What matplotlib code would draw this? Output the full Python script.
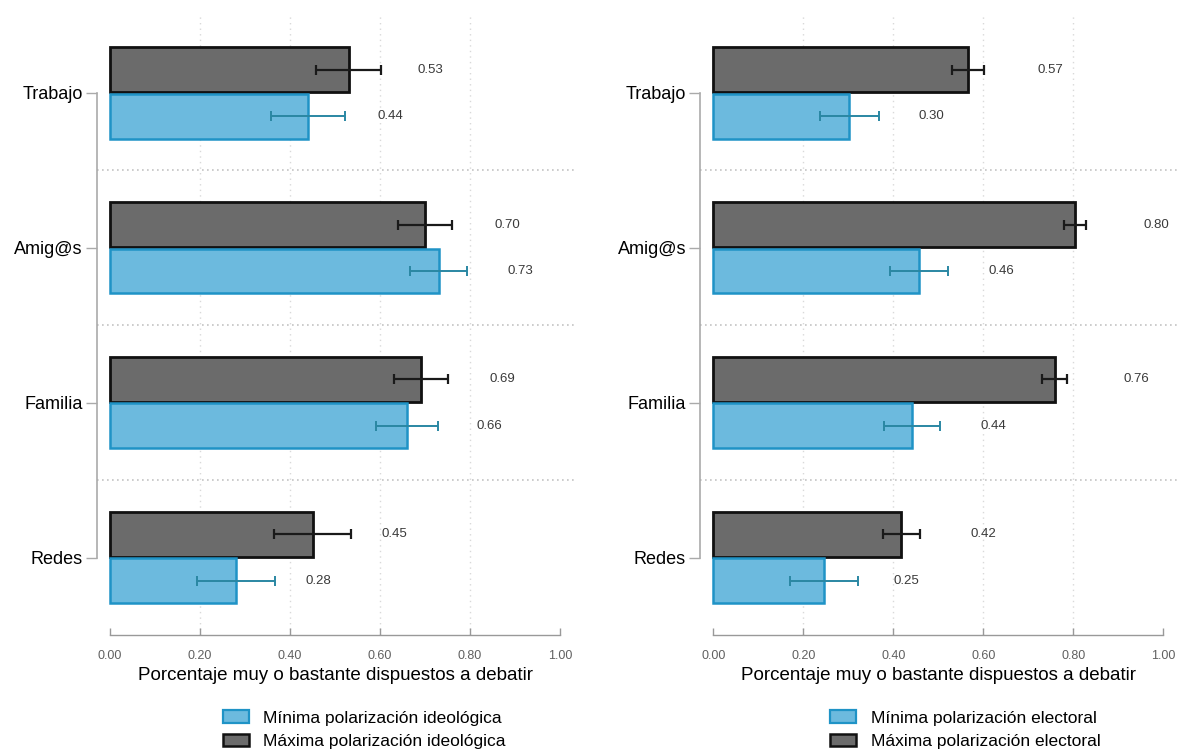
import matplotlib
matplotlib.use('Agg')
import matplotlib.pyplot as plt
from matplotlib.patches import Patch
import numpy as np

plt.rcParams['font.family'] = ['Liberation Sans', 'DejaVu Sans']

categories = ['Trabajo', 'Amig@s', 'Familia', 'Redes']
xticks = [0.0, 0.2, 0.4, 0.6, 0.8, 1.0]
xtick_labels = ['0.00', '0.20', '0.40', '0.60', '0.80', '1.00']
xlabel = 'Porcentaje muy o bastante dispuestos a debatir'

# Left panel: ideological polarization
ideo_min = [0.44, 0.73, 0.66, 0.28]
ideo_min_err = [0.083, 0.064, 0.068, 0.086]
ideo_max = [0.53, 0.70, 0.69, 0.45]
ideo_max_err = [0.073, 0.060, 0.060, 0.085]
ideo_labels = ['Mínima polarización ideológica', 'Máxima polarización ideológica']

# Right panel: electoral polarization
elec_min = [0.302, 0.457, 0.441, 0.246]
elec_min_err = [0.065, 0.065, 0.062, 0.075]
elec_max = [0.566, 0.803, 0.758, 0.417]
elec_max_err = [0.036, 0.025, 0.027, 0.041]
elec_labels = ['Mínima polarización electoral', 'Máxima polarización electoral']

BLUE_FILL = '#6cbade'
BLUE_EDGE = '#1f93c6'
BLUE_ERR = '#2a87a3'
DARK_FILL = '#6b6b6b'
DARK_EDGE = '#111111'

fig = plt.figure(figsize=(11.77, 7.51), dpi=100)

def panel(ax, vmin, emin, vmax, emax):
    n = len(categories)
    ypos = np.arange(n)[::-1].astype(float)  # Trabajo at top
    h = 0.29
    off = 0.15
    ax.barh(ypos + off, vmax, height=h, color=DARK_FILL, edgecolor=DARK_EDGE,
            linewidth=2.0, zorder=3)
    ax.barh(ypos - off, vmin, height=h, color=BLUE_FILL, edgecolor=BLUE_EDGE,
            linewidth=1.8, zorder=3)
    ax.errorbar(vmax, ypos + off, xerr=emax, fmt='none', ecolor='#1a1a1a',
                elinewidth=1.6, capsize=3.5, capthick=1.6, zorder=4)
    ax.errorbar(vmin, ypos - off, xerr=emin, fmt='none', ecolor=BLUE_ERR,
                elinewidth=1.4, capsize=3.5, capthick=1.4, zorder=4)
    for v, y in zip(vmax, ypos + off):
        ax.text(v + 0.182, y, f'{v:.2f}', ha='center', va='center',
                fontsize=9.5, color='#3a3a3a')
    for v, y in zip(vmin, ypos - off):
        ax.text(v + 0.182, y, f'{v:.2f}', ha='center', va='center',
                fontsize=9.5, color='#3a3a3a')
    ax.set_xlim(-0.03, 1.03)
    ax.set_ylim(-0.5, n - 0.5)
    ax.set_yticks(ypos)
    ax.set_yticklabels(categories, fontsize=13)
    ax.set_xticks(xticks)
    ax.set_xticklabels(xtick_labels, fontsize=9, color='#606060')
    ax.set_xlabel(xlabel, fontsize=13.5, labelpad=4)
    for g in [0.2, 0.4, 0.6, 0.8]:
        ax.axvline(g, color='#d9d9d9', lw=1.0, ls=(0, (1, 3)), zorder=1)
    for g in np.arange(0.5, n - 0.5, 1.0):
        ax.axhline(g, color='#c4c4c4', lw=1.2, ls=(0, (1, 2)), zorder=1)
    for s in ['top', 'right']:
        ax.spines[s].set_visible(False)
    ax.spines['left'].set_bounds(ypos.min(), ypos.max())
    ax.spines['left'].set_color('#aaaaaa')
    ax.spines['left'].set_linewidth(1.2)
    ax.spines['bottom'].set_bounds(0, 1)
    ax.spines['bottom'].set_color('#999999')
    ax.spines['bottom'].set_linewidth(1.0)
    ax.tick_params(axis='y', length=8, width=1, color='#aaaaaa', pad=2)
    ax.tick_params(axis='x', direction='in', length=5, width=1,
                   color='#999999', pad=10.5)
    ax.set_facecolor('white')

ax1 = fig.add_axes([0.082, 0.1545, 0.4053, 0.825])
panel(ax1, ideo_min, ideo_min_err, ideo_max, ideo_max_err)
ax2 = fig.add_axes([0.5947, 0.1545, 0.4053, 0.825])
panel(ax2, elec_min, elec_min_err, elec_max, elec_max_err)

def legend(x, labels):
    handles = [Patch(facecolor=BLUE_FILL, edgecolor=BLUE_EDGE, linewidth=1.6),
               Patch(facecolor=DARK_FILL, edgecolor=DARK_EDGE, linewidth=1.8)]
    fig.legend(handles, labels, loc='upper left', bbox_to_anchor=(x, 0.054),
               bbox_transform=fig.transFigure, frameon=False, fontsize=12.5,
               handlelength=1.5, handleheight=0.75, handletextpad=0.85,
               labelspacing=0.45, borderpad=0, borderaxespad=0)

legend(222.6 / 1177, ideo_labels)
legend(830 / 1177, elec_labels)

fig.savefig('out.png', dpi=100, facecolor='white')
